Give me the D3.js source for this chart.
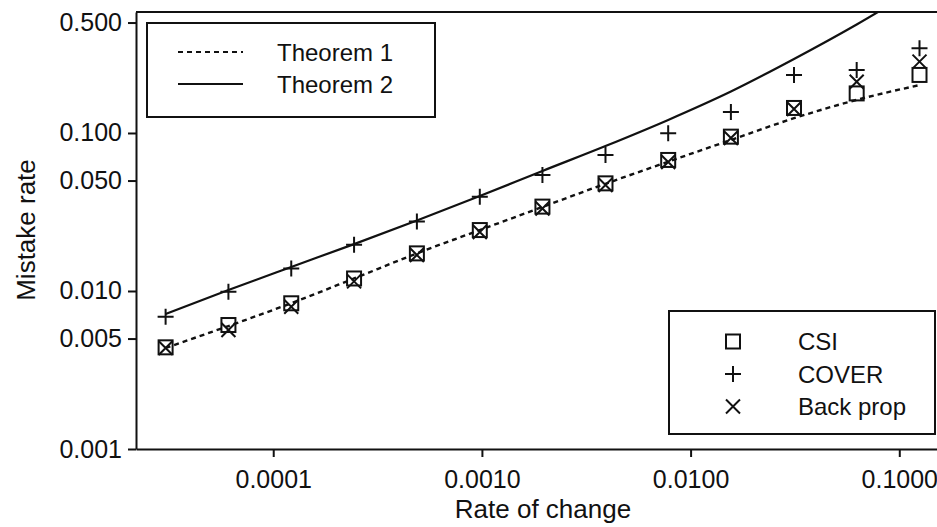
<!DOCTYPE html>
<html>
<head>
<meta charset="utf-8">
<script src="https://cdn.jsdelivr.net/npm/d3@7"></script>
<style>
  body { margin: 0; background: #fff; }
  svg { display: block; font-family: "Liberation Sans", Arial, sans-serif; }
</style>
</head>
<body>
<div id="chart"></div>
<script>
// rate of change (x), one entry per experiment
var rates = [0.0000305, 0.000061, 0.000122, 0.000244, 0.000488, 0.000977,
             0.00195, 0.00391, 0.00781, 0.0156, 0.0313, 0.0625, 0.125];
// mistake rates
var csi     = [0.00440, 0.00609, 0.00836, 0.0120, 0.0173, 0.0243, 0.0342, 0.0480, 0.0675, 0.0948, 0.144, 0.178, 0.233];
var cover   = [0.00687, 0.00990, 0.0139, 0.0196, 0.0275, 0.0395, 0.0542, 0.0726, 0.0995, 0.136, 0.233, 0.250, 0.344];
var backprop= [0.00436, 0.00567, 0.00795, 0.0115, 0.0169, 0.0236, 0.0333, 0.0469, 0.0655, 0.0929, 0.142, 0.211, 0.283];
var theorem1= [0.00436, 0.00600, 0.00837, 0.0120, 0.0173, 0.0243, 0.0340, 0.0477, 0.0658, 0.0903, 0.124, 0.162, 0.201];
var theorem2= [0.00715, 0.01015, 0.0142, 0.0198, 0.0279, 0.0399, 0.0575, 0.0827, 0.121, 0.183, 0.294, 0.486, 0.840];
var xTicks = [0.0001, 0.001, 0.01, 0.1];
var xTickLabels = ["0.0001", "0.0010", "0.0100", "0.1000"];
var yTicks = [0.001, 0.005, 0.01, 0.05, 0.1, 0.5];
var yTickLabels = ["0.001", "0.005", "0.010", "0.050", "0.100", "0.500"];
var lineNames = ["Theorem 1", "Theorem 2"];
var pointNames = ["CSI", "COVER", "Back prop"];

var W = 937, H = 527;
var box = {x1: 136, y1: 12, x2: 950, y2: 449};
var ink = "#111";

var svg = d3.select("#chart").append("svg")
  .attr("width", W).attr("height", H)
  .attr("viewBox", "0 0 " + W + " " + H);

var x = d3.scaleLog().domain([2.2e-5, 0.175]).range([box.x1, box.x2]);
var y = d3.scaleLog().domain([0.001, 0.583]).range([box.y2, box.y1]);

svg.append("defs").append("clipPath").attr("id", "plotClip")
  .append("rect")
  .attr("x", box.x1).attr("y", box.y1)
  .attr("width", box.x2 - box.x1).attr("height", box.y2 - box.y1);

// top frame line
svg.append("line")
  .attr("x1", box.x1).attr("x2", box.x2)
  .attr("y1", box.y1).attr("y2", box.y1)
  .attr("stroke", ink).attr("stroke-width", 2);

// axes
var xAxis = d3.axisBottom(x).tickValues(xTicks)
  .tickFormat(function(d, i){ return xTickLabels[i]; })
  .tickSize(8).tickSizeOuter(0).tickPadding(13);
var yAxis = d3.axisLeft(y).tickValues(yTicks)
  .tickFormat(function(d, i){ return yTickLabels[i]; })
  .tickSize(8).tickSizeOuter(0).tickPadding(6);

var gx = svg.append("g")
  .attr("transform", "translate(0," + box.y2 + ")")
  .call(xAxis);
var gy = svg.append("g")
  .attr("transform", "translate(" + box.x1 + ",0)")
  .call(yAxis);
[gx, gy].forEach(function(g){
  g.selectAll("path, line").attr("stroke", ink).attr("stroke-width", 2);
  g.selectAll("text").attr("fill", ink)
    .style("font-family", "'Liberation Sans', Arial, sans-serif")
    .style("font-size", "25px");
});

// axis titles
svg.append("text")
  .attr("x", 543).attr("y", 518)
  .attr("text-anchor", "middle")
  .attr("fill", ink).style("font-size", "26px")
  .text("Rate of change");
svg.append("text")
  .attr("transform", "translate(35,230) rotate(-90)")
  .attr("text-anchor", "middle")
  .attr("fill", ink).style("font-size", "26px")
  .text("Mistake rate");

// theory curves
var plot = svg.append("g").attr("clip-path", "url(#plotClip)");
var line = d3.line()
  .x(function(d){ return x(d[0]); })
  .y(function(d){ return y(d[1]); })
  .curve(d3.curveMonotoneX);

function pairs(vals){
  return rates.map(function(r, i){ return [r, vals[i]]; });
}

plot.append("path").datum(pairs(theorem1))
  .attr("d", line).attr("fill", "none")
  .attr("stroke", ink).attr("stroke-width", 2.4)
  .attr("stroke-dasharray", "5,4");
plot.append("path").datum(pairs(theorem2))
  .attr("d", line).attr("fill", "none")
  .attr("stroke", ink).attr("stroke-width", 2.2);

// marker shapes
function drawSquare(g, cx, cy){
  g.append("rect").attr("x", cx - 7).attr("y", cy - 7)
    .attr("width", 14).attr("height", 14)
    .attr("fill", "none").attr("stroke", ink).attr("stroke-width", 2);
}
function drawPlus(g, cx, cy){
  g.append("path")
    .attr("d", "M" + (cx - 8) + "," + cy + "H" + (cx + 8) + "M" + cx + "," + (cy - 8) + "V" + (cy + 8))
    .attr("stroke", ink).attr("stroke-width", 2).attr("fill", "none");
}
function drawCross(g, cx, cy){
  g.append("path")
    .attr("d", "M" + (cx - 7) + "," + (cy - 7) + "L" + (cx + 7) + "," + (cy + 7) +
               "M" + (cx + 7) + "," + (cy - 7) + "L" + (cx - 7) + "," + (cy + 7))
    .attr("stroke", ink).attr("stroke-width", 2).attr("fill", "none");
}
var drawers = [drawSquare, drawPlus, drawCross];
var pointSeries = [csi, cover, backprop];

var marks = svg.append("g");
pointSeries.forEach(function(vals, s){
  rates.forEach(function(r, i){
    drawers[s](marks, x(r), y(vals[i]));
  });
});

// legend for the curves
var leg1 = svg.append("g");
leg1.append("rect")
  .attr("x", 147).attr("y", 23).attr("width", 288).attr("height", 94)
  .attr("fill", "#fff").attr("stroke", ink).attr("stroke-width", 2);
lineNames.forEach(function(name, i){
  var ly = 52 + i * 32;
  leg1.append("line")
    .attr("x1", 178).attr("x2", 243).attr("y1", ly).attr("y2", ly)
    .attr("stroke", ink).attr("stroke-width", 2.2)
    .attr("stroke-dasharray", i === 0 ? "5,4" : null);
  leg1.append("text")
    .attr("x", 277).attr("y", ly + 9)
    .attr("fill", ink).style("font-size", "24px")
    .text(name);
});

// legend for the points
var leg2 = svg.append("g");
leg2.append("rect")
  .attr("x", 669).attr("y", 311).attr("width", 266).attr("height", 123)
  .attr("fill", "#fff").attr("stroke", ink).attr("stroke-width", 2);
pointNames.forEach(function(name, i){
  var ly = 341.5 + i * 32.5;
  drawers[i](leg2, 733, ly);
  leg2.append("text")
    .attr("x", 798).attr("y", ly + 8.5)
    .attr("fill", ink).style("font-size", "24px")
    .text(name);
});
</script>
</body>
</html>
